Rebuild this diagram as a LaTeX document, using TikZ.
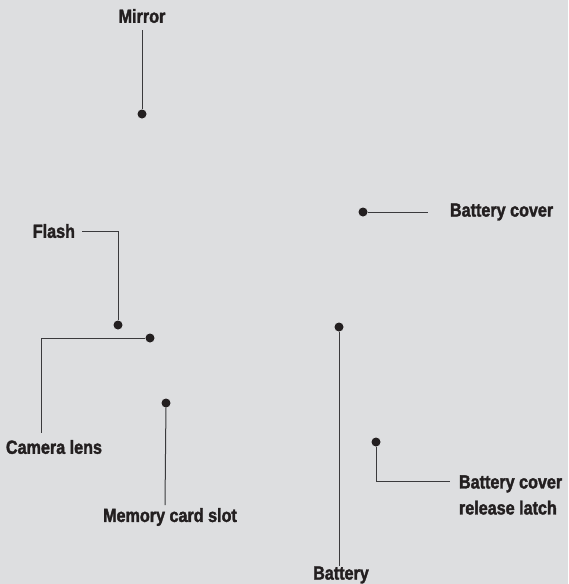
\documentclass[tikz,border=0pt]{standalone}
\usepackage{fontspec}
\setmainfont{Liberation Sans}[FakeStretch=0.85,FakeBold=1.8]
\usepackage{tikz}
\usetikzlibrary{calc,positioning}
\definecolor{PhBack}{HTML}{DDDEE0}
\definecolor{PhText}{HTML}{231F20}
\definecolor{PhLine}{HTML}{3A3A3C}

\begin{document}
\begin{tikzpicture}[
  x=1pt,y=-1pt,
  dot/.style={circle,fill=PhText,inner sep=0pt,minimum size=9pt},
  lead/.style={draw=PhLine,line width=1pt},
  lbl/.style={font=\fontsize{19}{26}\selectfont\bfseries,text=PhText,inner sep=0pt,outer sep=0pt}
]
\fill[PhBack] (0,0) rectangle (568,584);
\useasboundingbox (0,0) rectangle (568,584);

% Mirror.
\node[lbl] (mir) at (142,16) {Mirror};
\node[dot] (mdot) at (142,114) {};
\coordinate (m0) at (142,30);
\draw[lead] (m0) -- (mdot);

% Flash.
\node[lbl,anchor=east] (fla) at (75,231) {Flash};
\node[dot] (fdot) at (118,325) {};
\coordinate (f0) at (82,231);
\draw[lead] (f0) -| (fdot);

% Camera lens.
\node[lbl] (cam) at (54,447) {Camera lens};
\node[dot] (cdot) at (150,338) {};
\coordinate (c0) at (41,338);
\coordinate (c1) at (41,433);
\draw[lead] (cdot) -- (c0) -- (c1);

% Memory card slot.
\node[lbl] (mem) at (170,517) {Memory card slot};
\node[dot] (sdot) at (166,403) {};
\coordinate (s0) at (165,505);
\draw[lead] (sdot) -- (s0);

% Battery cover.
\node[lbl,anchor=west] (bcv) at (450,212) {Battery cover};
\node[dot] (bdot) at (363,212) {};
\coordinate (b0) at (428,212);
\draw[lead] (bdot) -- (b0);

% Battery.
\node[lbl] (bat) at (341,575) {Battery};
\node[dot] (tdot) at (339,327) {};
\coordinate (t0) at (339,566);
\draw[lead] (tdot) -- (t0);

% Battery cover release latch.
\node[lbl,anchor=west,align=left] (lat) at (459,495) {Battery cover\\release latch};
\node[dot] (ldot) at (376,442) {};
\coordinate (l0) at (450,481);
\draw[lead] (ldot) |- (l0);
\end{tikzpicture}
\end{document}
